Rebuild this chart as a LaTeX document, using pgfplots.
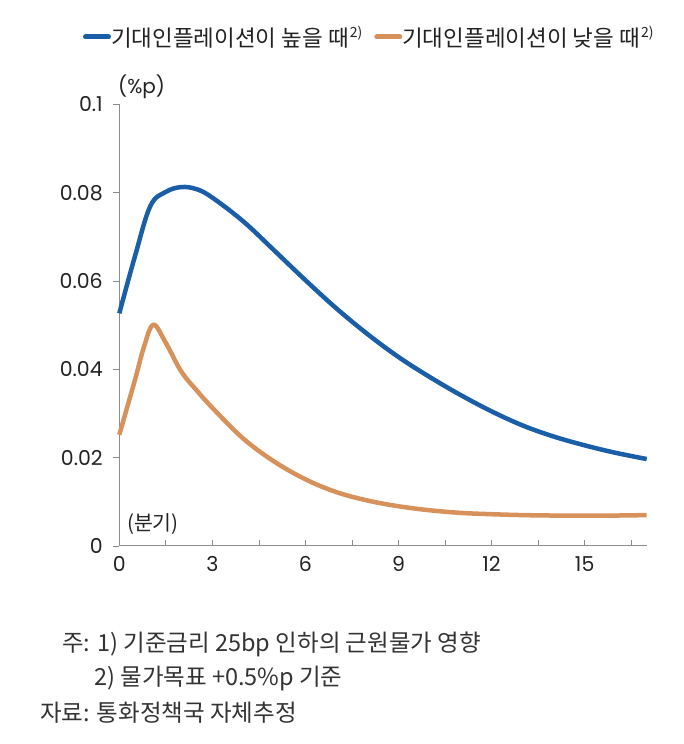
\documentclass[border=0pt]{standalone}
\usepackage{fontspec}
\usepackage{pgfplots}
\pgfplotsset{compat=1.18}
\setmainfont{Poppins}
\newfontfamily\kr{Noto Sans CJK KR}
\definecolor{cblue}{HTML}{1A5EA8}
\definecolor{corange}{HTML}{D6925A}
\definecolor{axgray}{HTML}{8C8C8C}
\definecolor{txt}{HTML}{222222}
\definecolor{note}{HTML}{333333}
\begin{document}
\begin{tikzpicture}
\path[use as bounding box] (0pt,0pt) rectangle (683pt,744pt);
\begin{axis}[
  at={(119.3pt,198pt)}, anchor=south west,
  scale only axis, width=527.4pt, height=441.5pt,
  xmin=0, xmax=17, ymin=0, ymax=0.1,
  axis x line*=bottom, axis y line*=left,
  axis line style={draw=axgray, line width=1pt},
  xtick={0,1.5,3,4.5,6,7.5,9,10.5,12,13.5,15,16.5},
  xticklabels={0,,3,,6,,9,,12,,15,},
  ytick={0,0.02,0.04,0.06,0.08,0.1},
  yticklabels={0,0.02,0.04,0.06,0.08,0.1},
  xtick align=inside, ytick align=outside,
  major tick length=6pt,
  tick style={draw=axgray, line width=0.8pt},
  /pgf/number format/assume math mode=true,
  tick label style={font=\fontsize{20.5}{20.5}\selectfont, text=txt},
  x tick label style={yshift=-7pt},
  y tick label style={xshift=-7pt},
  clip=false,
  legend columns=2,
  legend style={at={(-0.0688,1.1529)}, anchor=west, draw=none, fill=none,
    inner sep=0pt, outer sep=0pt,
    nodes={inner sep=0pt, anchor=west, text=txt},
    font=\kr\fontsize{22.5}{22.5}\selectfont,
    /tikz/every even column/.append style={column sep=12pt}},
  legend image code/.code={\draw[#1, line width=5pt, line cap=round] (1pt,0pt) -- (24pt,0pt);},
]
\addplot[cblue, line width=4.5pt, smooth, tension=0.6] coordinates {
(0,0.0527) (0.5,0.0655) (1,0.0770) (1.5,0.0802) (2,0.0813) (2.5,0.0808) (3,0.0789)
(4,0.0735) (5,0.0669) (6,0.0602) (7,0.0538) (8,0.0480) (9,0.0428) (10,0.0383)
(11,0.0342) (12,0.0305) (13,0.0273) (14,0.0248) (15,0.0228) (16,0.0211) (17,0.0197)};
\addlegendentry{기대인플레이션이 높을 때\hspace{1pt}\raisebox{0.42em}{\fontsize{14}{14}\selectfont 2)}}
\addplot[corange, line width=4.5pt, smooth, tension=0.6] coordinates {
(0,0.0252) (0.5,0.0375) (0.8,0.0452) (1.1,0.0501) (1.5,0.0460) (2,0.0395) (2.5,0.0352)
(3,0.0313) (4,0.0243) (5,0.0191) (6,0.0151) (7,0.0122) (8,0.0103) (9,0.0090)
(10,0.0081) (11,0.0075) (12,0.0072) (13,0.0070) (14,0.0069) (15,0.0069) (16,0.0069) (17,0.0070)};
\addlegendentry{기대인플레이션이 낮을 때\hspace{1pt}\raisebox{0.42em}{\fontsize{14}{14}\selectfont 2)}}
\end{axis}
\node[anchor=west, inner sep=0pt, text=txt, font=\fontsize{20}{20}\selectfont] at (118pt,657pt) {(\%p)};
\node[anchor=west, inner sep=0pt, text=txt, font=\kr\fontsize{20.5}{20.5}\selectfont] at (127pt,220pt) {(분기)};
\node[anchor=base west, inner sep=0pt, text=note, font=\kr\fontsize{23.5}{23.5}\selectfont] at (62pt,92pt) {주: 1) 기준금리 25bp 인하의 근원물가 영향};
\node[anchor=base west, inner sep=0pt, text=note, font=\kr\fontsize{23.5}{23.5}\selectfont] at (94pt,58pt) {2) 물가목표 +0.5\%p 기준};
\node[anchor=base west, inner sep=0pt, text=note, font=\kr\fontsize{23.5}{23.5}\selectfont] at (40pt,23pt) {자료: 통화정책국 자체추정};
\end{tikzpicture}
\end{document}
